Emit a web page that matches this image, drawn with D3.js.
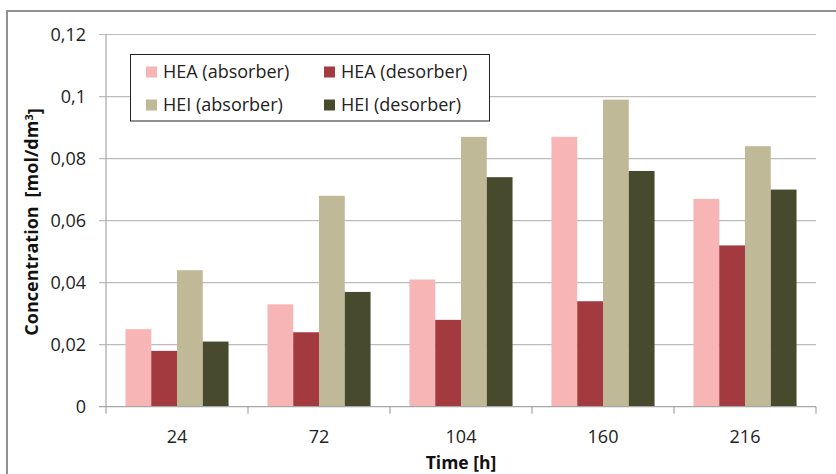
<!DOCTYPE html>
<html>
<head>
<meta charset="utf-8">
<script src="https://cdn.jsdelivr.net/npm/d3@7"></script>
<style>
  html, body { margin: 0; padding: 0; background: #fff; }
  svg { display: block; font-family: "Open Sans", Lato, sans-serif; }
</style>
</head>
<body>
<svg id="chart" width="836" height="474"></svg>
<script>
// Sampling times (hours)
const categories = ["24", "72", "104", "160", "216"];
// Series names, in legend / bar order
const seriesNames = ["HEA (absorber)", "HEA (desorber)", "HEI (absorber)", "HEI (desorber)"];
// Concentrations [mol/dm3] per series, one value per sampling time
const heaAbsorber = [0.025, 0.033, 0.041, 0.087, 0.067];
const heaDesorber = [0.018, 0.024, 0.028, 0.034, 0.052];
const heiAbsorber = [0.044, 0.068, 0.087, 0.099, 0.084];
const heiDesorber = [0.021, 0.037, 0.074, 0.076, 0.070];
const yTicks = [0, 0.02, 0.04, 0.06, 0.08, 0.1, 0.12];
const yTickLabels = ["0", "0,02", "0,04", "0,06", "0,08", "0,1", "0,12"];

const seriesValues = [heaAbsorber, heaDesorber, heiAbsorber, heiDesorber];
const colors = ["#f7b5b6", "#a33a40", "#c0b998", "#474a2d"];

const FS = 18;

const svg = d3.select("#chart");

// outer frame of the figure
svg.append("rect")
  .attr("x", 7).attr("y", 11).attr("width", 860).attr("height", 500)
  .attr("fill", "none").attr("stroke", "#8d9194").attr("stroke-width", 2);

const plot = { left: 106, right: 816, top: 34.5, bottom: 406.7 };

const x0 = d3.scaleBand().domain(categories).range([plot.left, plot.right]).padding(0);
const x1 = d3.scaleBand().domain(seriesNames)
  .range([x0.bandwidth() * 0.137, x0.bandwidth() * 0.863]).padding(0);
const y = d3.scaleLinear().domain([0, 0.12]).range([plot.bottom, plot.top]);

// horizontal gridlines, extended left as tick marks
svg.append("g").selectAll("line").data(yTicks.slice(1)).join("line")
  .attr("x1", plot.left - 7).attr("x2", plot.right)
  .attr("y1", d => y(d)).attr("y2", d => y(d))
  .attr("stroke", "#bcbcbc").attr("stroke-width", 1.2);

// y axis line
svg.append("line")
  .attr("x1", plot.left).attr("x2", plot.left)
  .attr("y1", plot.top).attr("y2", plot.bottom)
  .attr("stroke", "#a6a6a6").attr("stroke-width", 1.2);

// y tick labels
svg.append("g").selectAll("text").data(yTicks).join("text")
  .attr("x", 86).attr("y", d => y(d))
  .attr("dy", "0.35em").attr("text-anchor", "end")
  .attr("font-size", FS).attr("fill", "#222")
  .text((d, i) => yTickLabels[i]);

// bars
const groups = svg.append("g").selectAll("g").data(categories).join("g")
  .attr("transform", c => `translate(${x0(c)},0)`);
groups.selectAll("rect")
  .data((c, ci) => seriesNames.map((s, si) => ({ s, si, v: seriesValues[si][ci] })))
  .join("rect")
  .attr("x", d => x1(d.s))
  .attr("width", x1.bandwidth())
  .attr("y", d => y(d.v))
  .attr("height", d => y(0) - y(d.v))
  .attr("fill", d => colors[d.si]);

// x axis line and category boundary ticks
svg.append("line")
  .attr("x1", plot.left - 7).attr("x2", plot.right)
  .attr("y1", plot.bottom).attr("y2", plot.bottom)
  .attr("stroke", "#a6a6a6").attr("stroke-width", 1.2);
const boundaries = categories.map(c => x0(c)).concat([plot.right]);
svg.append("g").selectAll("line").data(boundaries).join("line")
  .attr("x1", d => d).attr("x2", d => d)
  .attr("y1", plot.bottom).attr("y2", plot.bottom + 7)
  .attr("stroke", "#a6a6a6").attr("stroke-width", 1.2);

// x tick labels
svg.append("g").selectAll("text").data(categories).join("text")
  .attr("x", c => x0(c) + x0.bandwidth() / 2).attr("y", 437)
  .attr("dy", "0.35em").attr("text-anchor", "middle")
  .attr("font-size", FS).attr("fill", "#222")
  .text(c => c);

// axis titles
svg.append("text")
  .attr("x", 461).attr("y", 463).attr("dy", "0.35em")
  .attr("text-anchor", "middle").attr("font-weight", "bold")
  .attr("font-size", 17.5).attr("fill", "#111")
  .text("Time [h]");

const yTitle = svg.append("text")
  .attr("transform", "translate(32,222) rotate(-90)")
  .attr("dy", "0.35em")
  .attr("text-anchor", "middle").attr("font-weight", "bold")
  .attr("font-size", 18).attr("fill", "#111");
yTitle.append("tspan").text("Concentration");
yTitle.append("tspan").attr("dx", 9).text("[mol/dm");
yTitle.append("tspan").attr("dy", "-0.45em").attr("font-size", 11).text("3");
yTitle.append("tspan").attr("dy", "0.45em").text("]");

// legend
const legend = svg.append("g");
legend.append("rect")
  .attr("x", 130.5).attr("y", 54.5).attr("width", 359).attr("height", 66.5)
  .attr("fill", "#fff").attr("stroke", "#222").attr("stroke-width", 1);
const legendPos = [
  { x: 146, y: 72 }, { x: 324, y: 72 },
  { x: 146, y: 105 }, { x: 324, y: 105 }
];
const items = legend.selectAll("g.item").data(seriesNames).join("g")
  .attr("class", "item")
  .attr("transform", (d, i) => `translate(${legendPos[i].x},${legendPos[i].y})`);
items.append("rect")
  .attr("x", 0).attr("y", -5.5).attr("width", 11).attr("height", 11)
  .attr("fill", (d, i) => colors[i]);
items.append("text")
  .attr("x", 17).attr("y", 0).attr("dy", "0.35em")
  .attr("font-size", FS).attr("fill", "#222")
  .text(d => d);
</script>
</body>
</html>
